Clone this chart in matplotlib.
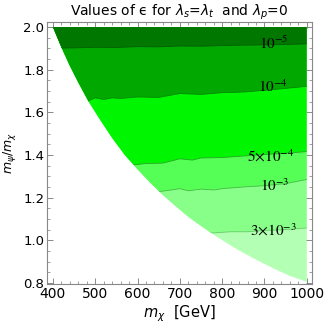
import numpy as np
import matplotlib
matplotlib.use("Agg")
import matplotlib.pyplot as plt
from matplotlib.patches import Polygon
from matplotlib.ticker import MultipleLocator

plt.rcParams["font.family"] = "DejaVu Sans"
plt.rcParams["mathtext.fontset"] = "dejavusans"

# allowed-region lower boundary
boundary_m = [400, 420, 440, 460, 483, 510, 540, 570, 600, 630, 660, 690, 720,
              750, 780, 810, 840, 870, 900, 930, 960, 1000]
boundary_r = [2.0, 1.905, 1.818, 1.74, 1.655, 1.57, 1.48, 1.40, 1.333, 1.27, 1.212,
              1.16, 1.11, 1.067, 1.026, 0.988, 0.952, 0.92, 0.889, 0.86, 0.833, 0.805]

# contour lines of epsilon, from top (smallest) to bottom (largest)
c1_m = [380, 450, 500, 550, 600, 650, 700, 750, 800, 850, 900, 950, 1000]
c1_r = [1.900, 1.902, 1.905, 1.904, 1.908, 1.907, 1.911, 1.910, 1.913, 1.915, 1.916, 1.918, 1.921]
c2_m = [380, 480, 500, 520, 540, 560, 600, 650, 700, 750, 800, 850, 900, 950, 1000]
c2_r = [1.650, 1.650, 1.668, 1.660, 1.668, 1.665, 1.672, 1.670, 1.688, 1.684, 1.692, 1.695, 1.703, 1.712, 1.722]
c3_m = [380, 585, 620, 660, 700, 730, 750, 800, 850, 900, 950, 1000]
c3_r = [1.352, 1.352, 1.360, 1.362, 1.382, 1.376, 1.386, 1.388, 1.395, 1.402, 1.408, 1.416]
c4_m = [380, 650, 680, 700, 720, 750, 780, 800, 850, 900, 950, 1000]
c4_r = [1.228, 1.228, 1.236, 1.242, 1.232, 1.240, 1.236, 1.242, 1.250, 1.256, 1.266, 1.285]
c5_m = [380, 775, 820, 860, 900, 950, 1000]
c5_r = [1.034, 1.034, 1.040, 1.040, 1.046, 1.050, 1.058]

contour_labels = [r"$10^{-5}$", r"$10^{-4}$", r"$5{\times}10^{-4}$", r"$10^{-3}$", r"$3{\times}10^{-3}$"]
label_m = [922, 921, 914, 924, 921]
label_r = [1.925, 1.720, 1.392, 1.256, 1.045]

# lightest band first, darkest last
band_colors = ["#b3ffb3", "#88ff88", "#55ff55", "#00f500", "#00a800", "#007800"]
line_colors = ["#66cc66", "#44bb44", "#22aa22", "#008800", "#005f00"]

fig = plt.figure(figsize=(3.27, 3.29), dpi=100)
ax = fig.add_axes([0.1437, 0.1368, 0.81, 0.796])

# allowed region polygon
region = list(zip(boundary_m, boundary_r)) + [(1000, 2.0)]
clip = Polygon(region, closed=True, transform=ax.transData, facecolor="none", edgecolor="none")
ax.add_patch(clip)

base = Polygon(region, closed=True, facecolor=band_colors[0], edgecolor="none", zorder=1)
ax.add_patch(base)

contours = [(c5_m, c5_r), (c4_m, c4_r), (c3_m, c3_r), (c2_m, c2_r), (c1_m, c1_r)]
for i, (cm, cr) in enumerate(contours):
    xs = list(cm) + [1000, 380]
    ys = list(cr) + [2.0, 2.0]
    poly = ax.fill(xs, ys, color=band_colors[i + 1], lw=0, zorder=2 + i)[0]
    poly.set_clip_path(clip)
    ln, = ax.plot(cm, cr, color=line_colors[i], lw=0.6, zorder=2.5 + i)
    ln.set_clip_path(clip)

for t, m, r in zip(contour_labels, label_m, label_r):
    ax.text(m, r, t, ha="center", va="center", fontsize=11,
            math_fontfamily="stix", color="black", zorder=20)

ax.set_xlim(386, 1012)
ax.set_ylim(0.795, 2.023)
ax.xaxis.set_major_locator(MultipleLocator(100))
ax.xaxis.set_minor_locator(MultipleLocator(20))
ax.yaxis.set_major_locator(MultipleLocator(0.2))
ax.yaxis.set_minor_locator(MultipleLocator(0.05))
ax.yaxis.set_major_formatter(plt.FuncFormatter(lambda v, p: f"{v:.1f}"))
ax.tick_params(which="both", direction="in", top=True, right=True, colors="#777777",
               labelcolor="black")
ax.tick_params(axis="x", labelsize=10)
ax.tick_params(axis="y", labelsize=9.5)
ax.tick_params(which="major", length=4, width=0.6, pad=2)
ax.tick_params(which="minor", length=2, width=0.5)
for s in ax.spines.values():
    s.set_color("#888888")
    s.set_linewidth(0.8)

ax.set_xlabel(r"$m_{\chi}$  [GeV]", fontsize=10.5, labelpad=2)
ax.set_ylabel(r"$m_{\psi}/m_{\chi}$", fontsize=9)
ax.yaxis.set_label_coords(-0.11, 0.5)
ax.set_title("Values of \u03f5 for $\\lambda_s$=$\\lambda_t$  and $\\lambda_p$=0",
             fontsize=10, pad=5)

fig.savefig("out.png", dpi=100)
